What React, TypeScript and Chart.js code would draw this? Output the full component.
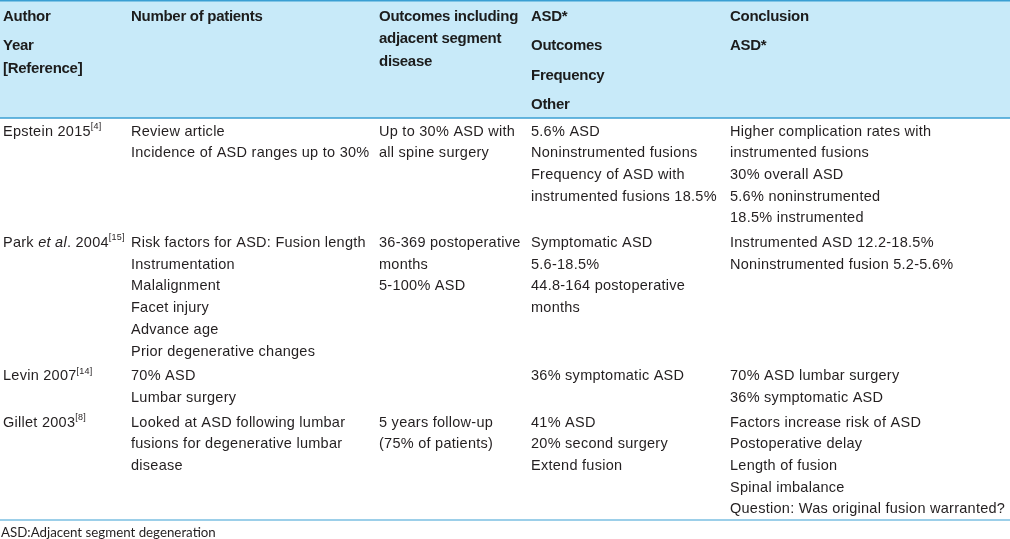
import React, { useEffect, useRef } from "react";
import { Chart, registerables } from "chart.js";
Chart.register(...registerables);

// ---------- data ----------
const headerAuthor = [["Author"], ["Year", "[Reference]"]];
const headerPatients = [["Number of patients"]];
const headerOutcomes = [["Outcomes including", "adjacent segment", "disease"]];
const headerAsd = [["ASD*"], ["Outcomes"], ["Frequency"], ["Other"]];
const headerConclusion = [["Conclusion"], ["ASD*"]];

const authorNames = ["Epstein", "Park", "Levin", "Gillet"];
const authorEtAl = [false, true, false, false];
const authorYears = ["2015", "2004", "2007", "2003"];
const authorRefs = ["[4]", "[15]", "[14]", "[8]"];

const patients = [
  ["Review article", "Incidence of ASD ranges up to 30%"],
  ["Risk factors for ASD: Fusion length", "Instrumentation", "Malalignment", "Facet injury", "Advance age", "Prior degenerative changes"],
  ["70% ASD", "Lumbar surgery"],
  ["Looked at ASD following lumbar", "fusions for degenerative lumbar", "disease"],
];
const outcomes = [
  ["Up to 30% ASD with", "all spine surgery"],
  ["36-369 postoperative", "months", "5-100% ASD"],
  [],
  ["5 years follow-up", "(75% of patients)"],
];
const asdOutcomes = [
  ["5.6% ASD", "Noninstrumented fusions", "Frequency of ASD with", "instrumented fusions 18.5%"],
  ["Symptomatic ASD", "5.6-18.5%", "44.8-164 postoperative", "months"],
  ["36% symptomatic ASD"],
  ["41% ASD", "20% second surgery", "Extend fusion"],
];
const conclusions = [
  ["Higher complication rates with", "instrumented fusions", "30% overall ASD", "5.6% noninstrumented", "18.5% instrumented"],
  ["Instrumented ASD 12.2-18.5%", "Noninstrumented fusion 5.2-5.6%"],
  ["70% ASD lumbar surgery", "36% symptomatic ASD"],
  ["Factors increase risk of ASD", "Postoperative delay", "Length of fusion", "Spinal imbalance", "Question: Was original fusion warranted?"],
];
const footnote = "ASD:Adjacent segment degeneration";

// ---------- layout ----------
const W = 1010;
const H = 539;
const colX = [3, 131, 379, 531, 730];
const headerBottom = 118;
const tableBottom = 520;
const headerFirst = 17;
const headerLine = 22.3;
const headerParaGap = 7;
const bodyLine = 21.7;
const rowPad = 3;
const bodyFirstOffset = 13.5;
const footY = 533;

const FAMILY = '"Liberation Sans Narrow", "Liberation Sans", Arial, sans-serif';
const BODY_SIZE = 14.5;
const HEAD_SIZE = 15;
const LINE_COLOR = "#3a9fd3";
const HEAD_BG = "#c8eaf9";
const TEXT = "#231f20";
const HEAD_TEXT = "#1c1c1c";

const bodySamples = ["Higher complication rates with", "Question: Was original fusion warranted?", "Incidence of ASD ranges up to 30%"];
const bodyTargets = [207, 277, 231];

function fitSpacing(ctx: CanvasRenderingContext2D, font: string, samples: string[], targets: number[]) {
  ctx.font = font;
  (ctx as any).letterSpacing = "0px";
  let w = 0, t = 0, n = 0;
  samples.forEach((s, i) => {
    w += ctx.measureText(s).width;
    t += targets[i];
    n += s.length;
  });
  return (t - w) / n;
}

const tablePlugin = {
  id: "tableDraw",
  afterDraw(chart: any) {
    const { ctx, scales } = chart;
    const px = (v: number) => scales.x.getPixelForValue(v);
    const py = (v: number) => scales.y.getPixelForValue(v);
    ctx.save();

    const bodyFont = `${BODY_SIZE}px ${FAMILY}`;
    const italicFont = `italic ${BODY_SIZE}px ${FAMILY}`;
    const headFont = `bold ${HEAD_SIZE}px ${FAMILY}`;
    const bodySp = fitSpacing(ctx, bodyFont, bodySamples, bodyTargets);
    const headSp = fitSpacing(ctx, headFont, ["Outcomes including"], [139]);

    // header band
    ctx.fillStyle = HEAD_BG;
    ctx.fillRect(px(0), py(0), px(W) - px(0), py(headerBottom) - py(0));
    // rules
    ctx.strokeStyle = LINE_COLOR;
    const hline = (yv: number, lw: number) => {
      ctx.lineWidth = lw;
      ctx.beginPath();
      ctx.moveTo(px(0), py(yv));
      ctx.lineTo(px(W), py(yv));
      ctx.stroke();
    };
    hline(0.75, 1.5);
    hline(headerBottom, 1.5);
    hline(tableBottom, 1.2);

    ctx.textBaseline = "middle";
    ctx.textAlign = "left";

    // header text
    const headers = [headerAuthor, headerPatients, headerOutcomes, headerAsd, headerConclusion];
    ctx.font = headFont;
    (ctx as any).letterSpacing = `${headSp}px`;
    ctx.fillStyle = HEAD_TEXT;
    headers.forEach((paras, c) => {
      let yv = headerFirst;
      paras.forEach((lines) => {
        lines.forEach((ln) => {
          ctx.fillText(ln, px(colX[c]), py(yv));
          yv += headerLine;
        });
        yv += headerParaGap;
      });
    });

    // body
    ctx.fillStyle = TEXT;
    (ctx as any).letterSpacing = `${bodySp}px`;
    const cols = [patients, outcomes, asdOutcomes, conclusions];
    let rowTop = headerBottom;
    for (let r = 0; r < authorNames.length; r++) {
      const n = Math.max(1, ...cols.map((c) => c[r].length));
      const y0 = rowTop + bodyFirstOffset;
      let x = px(colX[0]);
      const yy = py(y0);
      ctx.font = bodyFont;
      if (authorEtAl[r]) {
        const a = authorNames[r] + " ";
        ctx.fillText(a, x, yy);
        x += ctx.measureText(a).width;
        ctx.font = italicFont;
        ctx.fillText("et al", x, yy);
        x += ctx.measureText("et al").width;
        ctx.font = bodyFont;
        const b = ". " + authorYears[r];
        ctx.fillText(b, x, yy);
        x += ctx.measureText(b).width;
      } else {
        const a = authorNames[r] + " " + authorYears[r];
        ctx.fillText(a, x, yy);
        x += ctx.measureText(a).width;
      }
      ctx.font = `9px ${FAMILY}`;
      (ctx as any).letterSpacing = "0.2px";
      ctx.fillText(authorRefs[r], x, yy - 5);
      (ctx as any).letterSpacing = `${bodySp}px`;
      ctx.font = bodyFont;

      cols.forEach((col, ci) => {
        col[r].forEach((ln, i) => {
          ctx.fillText(ln, px(colX[ci + 1]), py(y0 + i * bodyLine));
        });
      });
      rowTop += n * bodyLine + rowPad;
    }

    // footnote
    (ctx as any).letterSpacing = "0px";
    ctx.font = `13.3px Lato, "Open Sans", sans-serif`;
    ctx.fillStyle = TEXT;
    ctx.fillText(footnote, px(1), py(footY));
    ctx.restore();
  },
};

export default function App() {
  const ref = useRef<HTMLCanvasElement>(null);
  useEffect(() => {
    document.body.style.margin = "0";
    const chart = new Chart(ref.current as HTMLCanvasElement, {
      type: "scatter",
      data: { datasets: [{ data: [], pointRadius: 0 }] },
      options: {
        animation: false,
        responsive: false,
        maintainAspectRatio: false,
        layout: { padding: 0 },
        plugins: { legend: { display: false }, tooltip: { enabled: false } },
        scales: {
          x: { type: "linear", min: 0, max: W, display: false },
          y: { type: "linear", min: 0, max: H, reverse: true, display: false },
        },
      },
      plugins: [tablePlugin],
    });
    return () => chart.destroy();
  }, []);
  return <canvas ref={ref} width={W} height={H} style={{ display: "block", background: "#fff" }} />;
}
